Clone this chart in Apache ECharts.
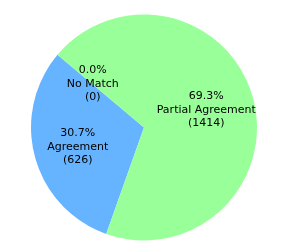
<!DOCTYPE html>
<html><head><meta charset="utf-8">
<script src="https://cdn.jsdelivr.net/npm/echarts@6/dist/echarts.min.js"></script>
<style>html,body{margin:0;padding:0;background:#fff}#c{width:301px;height:249px}</style>
</head><body><div id="c"></div>
<script>
var categories = ['Agreement', 'Partial Agreement', 'No Match'];
var values = [626, 1414, 0];
var colors = ['#66b3ff', '#99ff99', '#ffcc99'];
var total = values.reduce(function(a,b){return a+b;},0);
var data = categories.map(function(c,i){return {name:c, value:values[i], itemStyle:{color:colors[i]}};});
var labelData = categories.map(function(c,i){return {name:c, value:values[i]};});
var labelNudge = [[2,0],[-6,0],[3,1]];
var chart = echarts.init(document.getElementById('c'), null, {renderer:'canvas'});
var R = 113;
chart.setOption({
  animation:false,
  series:[
    {type:'pie', center:[144,127.5], radius:[0,R], startAngle:140, clockwise:false,
     stillShowZeroSum:true, minAngle:0, avoidLabelOverlap:false,
     label:{show:false}, labelLine:{show:false}, emphasis:{disabled:true},
     itemStyle:{borderWidth:0}, data:data},
    {type:'pie', center:[144,128.5], radius:[R*0.2,R], startAngle:140, clockwise:false,
     stillShowZeroSum:true, minAngle:0, avoidLabelOverlap:false, silent:true,
     itemStyle:{color:'rgba(0,0,0,0)', borderWidth:0},
     label:{show:true, position:'inner', color:'#000', fontFamily:'DejaVu Sans', fontSize:11, lineHeight:13.5,
       formatter:function(p){return (p.value/total*100).toFixed(1)+'%\n'+p.name+'\n('+p.value+')';}},
     labelLayout:function(p){var n=labelNudge[p.dataIndex]||[0,0];return {dx:n[0], dy:n[1]};},
     labelLine:{show:false}, emphasis:{disabled:true}, data:labelData}
  ]
});
</script></body></html>
